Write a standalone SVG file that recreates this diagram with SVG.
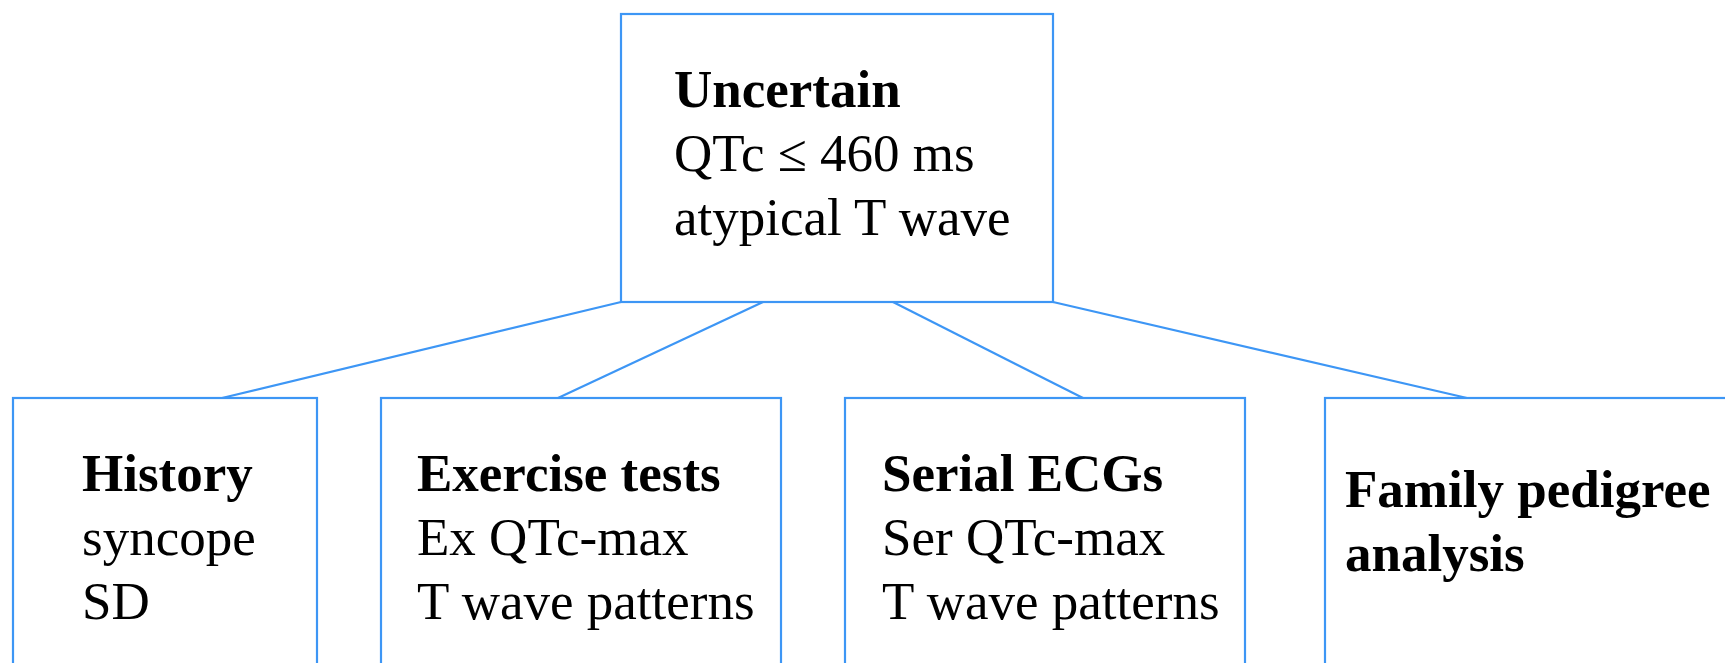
<svg xmlns="http://www.w3.org/2000/svg" width="1725" height="663" viewBox="0 0 1725 663">
<style>
.box{fill:#fff;stroke:#3d96f5;stroke-width:2.2}
.edge{stroke:#3d96f5;stroke-width:2.2;fill:none}
text{font-family:"Liberation Serif","Times New Roman",serif;font-size:53px;fill:#000}
.b{font-weight:bold}
</style>
<rect width="1725" height="663" fill="#fff"/>
<g id="connectors">
<line class="edge" x1="621" y1="302" x2="222" y2="398"/>
<line class="edge" x1="763" y1="302" x2="558" y2="398"/>
<line class="edge" x1="893" y1="302" x2="1083" y2="398"/>
<line class="edge" x1="1053" y1="302" x2="1467" y2="398"/>
</g>
<g id="uncertain">
<rect class="box" x="621" y="14" width="432" height="288"/>
<text x="674" y="107" class="b">Uncertain</text>
<text x="674" y="171">QTc ≤ 460 ms</text>
<text x="674" y="235">atypical T wave</text>
</g>
<g id="history">
<rect class="box" x="13" y="398" width="304" height="300"/>
<text x="82" y="491" class="b">History</text>
<text x="82" y="555">syncope</text>
<text x="82" y="619">SD</text>
</g>
<g id="exercise">
<rect class="box" x="381" y="398" width="400" height="300"/>
<text x="417" y="491" class="b">Exercise tests</text>
<text x="417" y="555">Ex QTc-max</text>
<text x="417" y="619">T wave patterns</text>
</g>
<g id="serial">
<rect class="box" x="845" y="398" width="400" height="300"/>
<text x="882" y="491" class="b">Serial ECGs</text>
<text x="882" y="555">Ser QTc-max</text>
<text x="882" y="619">T wave patterns</text>
</g>
<g id="family">
<rect class="box" x="1325" y="398" width="440" height="300"/>
<text x="1345" y="507" class="b">Family pedigree</text>
<text x="1345" y="571" class="b">analysis</text>
</g>
</svg>
